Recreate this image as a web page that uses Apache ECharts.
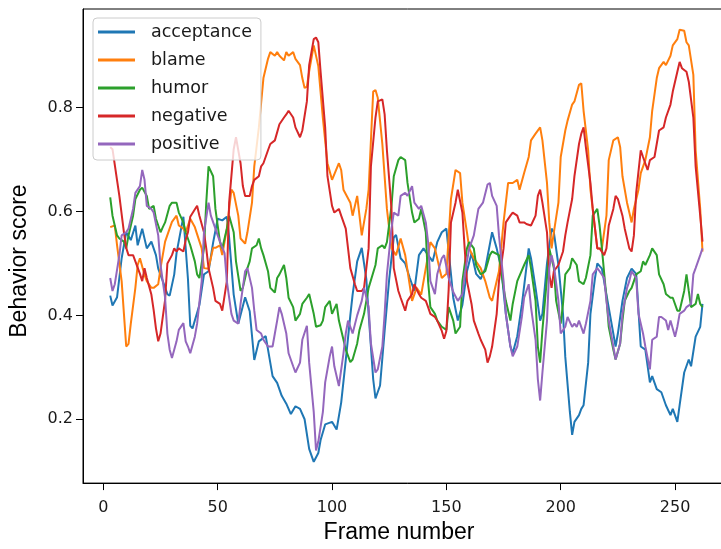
<!DOCTYPE html>
<html>
<head>
<meta charset="utf-8">
<script src="https://cdn.jsdelivr.net/npm/echarts@6/dist/echarts.min.js"></script>
<style>
html,body{margin:0;padding:0;background:#fff;overflow:hidden;width:721px;height:549px;}
#chart{width:745px;height:549px;}
</style>
</head>
<body>
<div id="chart"></div>
<script>
const seriesNames = ['acceptance', 'blame', 'humor', 'negative', 'positive'];
const seriesColors = ['#1f77b4', '#ff7f0e', '#2ca02c', '#d62728', '#9467bd'];
const xTicks = [0, 50, 100, 150, 200, 250];
const yTicks = [0.2, 0.4, 0.6, 0.8];

const acceptance = [[3,.438],[4,.419],[6,.435],[8,.51],[10,.56],[12,.545],[14,.573],[15,.535],[17,.567],[19,.529],[21,.542],[23,.516],[24,.49],[26,.466],[28,.441],[29,.438],[31,.479],[32,.52],[34,.567],[35,.59],[37,.47],[38,.38],[39,.375],[40,.39],[42,.42],[44,.479],[46,.485],[48,.54],[50,.586],[52,.583],[54,.59],[55,.55],[57,.44],[59,.384],[62,.435],[64,.408],[66,.314],[68,.35],[71,.36],[74,.283],[76,.27],[78,.245],[80,.23],[82,.21],[84,.225],[86,.22],[88,.2],[90,.143],[92,.118],[94,.135],[95,.16],[97,.19],[100,.195],[102,.18],[104,.232],[106,.314],[108,.4],[109,.44],[111,.504],[113,.53],[115,.47],[116,.403],[118,.277],[119,.24],[121,.265],[123,.37],[125,.47],[127,.55],[128,.555],[130,.51],[132,.5],[134,.472],[136,.447],[138,.516],[140,.529],[142,.516],[144,.504],[146,.541],[148,.56],[150,.567],[152,.48],[153,.434],[155,.39],[157,.42],[159,.485],[161,.52],[163,.48],[165,.47],[167,.49],[170,.56],[172,.529],[174,.49],[176,.403],[178,.34],[179,.327],[181,.36],[183,.42],[186,.529],[187,.51],[189,.453],[191,.39],[192,.403],[194,.5],[196,.567],[197,.56],[199,.497],[201,.403],[202,.32],[204,.214],[205,.17],[206,.195],[208,.208],[209,.22],[210,.227],[212,.309],[213,.403],[215,.472],[216,.5],[218,.49],[220,.44],[222,.39],[224,.34],[225,.365],[227,.428],[229,.472],[231,.49],[233,.48],[235,.34],[237,.334],[239,.271],[240,.283],[242,.258],[244,.252],[246,.227],[248,.208],[249,.22],[251,.195],[252,.227],[254,.29],[256,.315],[257,.302],[259,.359],[261,.378],[262,.422]];

const blame = [[3,.57],[5,.573],[6,.535],[8,.466],[9,.403],[10,.34],[11,.345],[12,.384],[14,.453],[15,.497],[16,.51],[18,.478],[19,.466],[21,.453],[22,.453],[24,.46],[25,.491],[27,.542],[30,.58],[32,.592],[33,.573],[35,.567],[36,.56],[38,.586],[40,.57],[43,.529],[44,.491],[46,.49],[48,.53],[49,.53],[51,.535],[52,.516],[54,.567],[56,.642],[57,.636],[59,.592],[60,.548],[62,.538],[63,.56],[65,.617],[66,.687],[68,.762],[70,.857],[72,.894],[73,.907],[75,.9],[76,.907],[77,.9],[79,.891],[80,.907],[81,.9],[83,.907],[84,.894],[86,.882],[87,.857],[88,.838],[89,.84],[90,.87],[92,.92],[94,.88],[96,.78],[98,.693],[100,.661],[103,.693],[104,.68],[105,.642],[108,.617],[109,.592],[111,.63],[113,.554],[115,.605],[116,.642],[118,.831],[119,.834],[120,.819],[122,.73],[124,.605],[126,.529],[128,.516],[130,.548],[132,.516],[135,.428],[137,.453],[139,.44],[141,.491],[143,.541],[145,.529],[147,.49],[148,.472],[150,.48],[152,.624],[154,.68],[156,.674],[157,.617],[159,.56],[160,.529],[162,.51],[165,.491],[167,.466],[169,.434],[170,.428],[173,.485],[175,.579],[177,.655],[179,.655],[181,.661],[182,.642],[184,.674],[186,.705],[187,.737],[189,.75],[191,.762],[192,.737],[194,.655],[195,.579],[196,.529],[197,.56],[199,.617],[200,.705],[202,.756],[203,.775],[205,.806],[206,.812],[208,.844],[209,.847],[210,.794],[212,.718],[213,.642],[215,.567],[216,.529],[218,.529],[220,.592],[221,.699],[223,.737],[225,.743],[226,.724],[227,.668],[229,.617],[230,.598],[231,.579],[232,.605],[234,.642],[235,.674],[237,.699],[239,.743],[240,.794],[242,.857],[243,.876],[245,.888],[246,.882],[248,.9],[249,.92],[251,.932],[252,.95],[254,.948],[255,.926],[256,.92],[258,.863],[259,.718],[261,.605],[262,.523]];

const humor = [[3,.627],[4,.592],[6,.554],[7,.548],[9,.542],[10,.529],[11,.554],[13,.592],[14,.624],[16,.642],[17,.646],[19,.63],[20,.605],[22,.611],[23,.586],[25,.56],[26,.57],[27,.579],[29,.611],[30,.617],[32,.617],[33,.598],[35,.579],[36,.56],[38,.535],[40,.504],[41,.479],[42,.472],[44,.529],[45,.617],[46,.687],[48,.668],[49,.605],[51,.541],[52,.529],[54,.567],[55,.592],[57,.56],[58,.504],[60,.447],[61,.453],[63,.491],[64,.504],[65,.529],[67,.535],[68,.548],[69,.529],[70,.516],[72,.485],[73,.453],[75,.444],[76,.472],[77,.479],[79,.497],[80,.472],[81,.434],[83,.416],[84,.39],[86,.403],[87,.422],[89,.434],[90,.441],[92,.403],[93,.378],[95,.381],[96,.39],[97,.416],[99,.428],[100,.403],[102,.422],[103,.39],[105,.353],[106,.334],[108,.31],[109,.315],[111,.346],[112,.372],[114,.403],[116,.453],[119,.497],[120,.529],[122,.535],[123,.529],[124,.541],[126,.611],[127,.668],[129,.699],[130,.705],[132,.699],[133,.655],[135,.598],[136,.579],[138,.586],[139,.605],[141,.56],[142,.466],[143,.416],[145,.403],[146,.39],[148,.378],[150,.372],[151,.416],[153,.39],[154,.365],[156,.378],[157,.466],[159,.529],[160,.541],[162,.529],[163,.497],[165,.479],[167,.485],[169,.516],[170,.523],[173,.516],[175,.453],[176,.428],[178,.39],[179,.422],[181,.466],[184,.497],[186,.516],[187,.491],[189,.428],[190,.34],[191,.309],[192,.372],[194,.472],[195,.529],[197,.491],[198,.428],[200,.384],[201,.422],[202,.479],[204,.491],[205,.51],[207,.497],[208,.466],[210,.46],[211,.472],[213,.516],[214,.592],[216,.605],[217,.573],[218,.529],[220,.434],[221,.378],[223,.334],[224,.315],[226,.346],[227,.39],[228,.428],[230,.447],[231,.453],[233,.479],[235,.485],[236,.504],[237,.497],[239,.516],[240,.529],[242,.516],[243,.479],[245,.46],[246,.441],[248,.434],[249,.434],[251,.409],[252,.409],[254,.447],[255,.479],[256,.447],[257,.416],[259,.422],[260,.441],[261,.422],[262,.416]];

const negative = [[3,.724],[4,.72],[6,.66],[7,.63],[9,.56],[10,.53],[11,.516],[13,.516],[14,.504],[16,.48],[17,.466],[18,.491],[19,.472],[21,.44],[22,.41],[23,.375],[24,.35],[25,.365],[27,.43],[28,.5],[30,.516],[31,.529],[32,.523],[33,.529],[35,.523],[36,.545],[37,.56],[38,.59],[41,.611],[42,.592],[44,.56],[45,.529],[46,.491],[48,.453],[49,.428],[51,.422],[52,.409],[54,.466],[55,.617],[57,.72],[58,.743],[60,.693],[61,.649],[62,.63],[64,.63],[65,.649],[66,.661],[68,.668],[69,.687],[70,.693],[72,.718],[73,.73],[75,.737],[77,.768],[79,.781],[80,.787],[81,.794],[83,.781],[84,.762],[86,.743],[87,.756],[89,.812],[90,.882],[92,.932],[93,.935],[94,.926],[95,.869],[97,.762],[98,.668],[100,.611],[101,.598],[103,.605],[104,.592],[106,.567],[107,.529],[108,.491],[110,.46],[111,.447],[113,.447],[114,.453],[116,.529],[117,.687],[119,.781],[120,.812],[122,.816],[123,.787],[124,.718],[126,.605],[127,.491],[129,.447],[130,.434],[132,.409],[133,.428],[135,.441],[136,.46],[138,.441],[139,.434],[141,.428],[142,.416],[143,.403],[145,.397],[146,.39],[148,.37],[149,.355],[150,.37],[151,.45],[152,.579],[154,.617],[155,.642],[157,.598],[158,.529],[159,.466],[161,.422],[162,.39],[164,.365],[165,.353],[167,.334],[168,.309],[169,.321],[170,.34],[172,.403],[173,.466],[175,.529],[176,.579],[178,.592],[179,.598],[181,.592],[182,.579],[184,.579],[185,.576],[187,.573],[189,.592],[190,.63],[191,.642],[192,.617],[194,.56],[195,.479],[196,.453],[197,.485],[199,.497],[201,.523],[202,.554],[203,.579],[205,.624],[206,.668],[208,.73],[209,.75],[210,.762],[211,.724],[213,.655],[214,.605],[216,.529],[217,.529],[219,.516],[220,.529],[221,.573],[223,.605],[224,.63],[225,.624],[227,.592],[228,.567],[230,.529],[231,.523],[232,.554],[233,.636],[235,.718],[236,.705],[238,.68],[239,.699],[241,.705],[243,.756],[245,.762],[246,.781],[248,.806],[249,.831],[251,.869],[252,.888],[253,.876],[255,.869],[256,.85],[258,.781],[259,.687],[261,.592],[262,.542]];

const positive = [[3,.472],[4,.447],[5,.46],[7,.516],[8,.554],[10,.56],[11,.567],[13,.605],[14,.636],[16,.649],[17,.68],[18,.661],[19,.611],[21,.605],[22,.598],[24,.554],[25,.497],[27,.434],[28,.365],[29,.334],[30,.318],[32,.35],[33,.372],[35,.385],[36,.35],[37,.34],[38,.327],[40,.359],[41,.384],[43,.466],[44,.56],[46,.617],[47,.592],[49,.567],[50,.554],[51,.542],[53,.52],[54,.466],[56,.403],[57,.39],[59,.384],[60,.422],[62,.485],[63,.491],[65,.453],[66,.409],[67,.372],[69,.365],[70,.353],[72,.34],[74,.34],[75,.365],[76,.39],[77,.416],[78,.403],[80,.365],[81,.327],[83,.302],[84,.29],[86,.309],[87,.353],[89,.38],[90,.309],[92,.214],[93,.14],[94,.157],[96,.214],[97,.271],[99,.321],[100,.34],[101,.302],[103,.264],[105,.327],[106,.365],[107,.39],[108,.378],[109,.365],[111,.4],[113,.428],[114,.453],[116,.416],[117,.346],[119,.29],[120,.296],[122,.34],[123,.403],[124,.479],[126,.567],[127,.598],[129,.592],[130,.63],[132,.636],[133,.63],[135,.649],[136,.617],[138,.605],[139,.611],[141,.579],[142,.541],[143,.466],[145,.441],[146,.479],[148,.51],[149,.516],[151,.472],[153,.445],[155,.428],[157,.441],[158,.479],[160,.529],[162,.554],[164,.605],[166,.617],[168,.652],[169,.655],[170,.63],[172,.611],[173,.554],[175,.466],[176,.403],[178,.34],[179,.321],[181,.34],[183,.397],[184,.434],[186,.46],[187,.416],[189,.353],[190,.277],[191,.236],[192,.29],[194,.39],[195,.491],[196,.516],[197,.497],[199,.428],[200,.365],[202,.378],[203,.397],[205,.378],[206,.384],[207,.378],[208,.39],[210,.365],[211,.384],[213,.428],[214,.479],[216,.491],[217,.485],[219,.472],[220,.428],[221,.39],[223,.34],[224,.315],[226,.346],[227,.403],[229,.453],[230,.466],[231,.485],[233,.472],[234,.403],[236,.365],[237,.34],[239,.296],[240,.353],[242,.359],[243,.397],[244,.397],[246,.39],[247,.372],[248,.39],[250,.359],[251,.378],[252,.403],[254,.409],[255,.416],[257,.422],[258,.479],[259,.491],[261,.516],[262,.529]];

const seriesData = [acceptance, blame, humor, negative, positive];

const chart = echarts.init(document.getElementById('chart'), null, {renderer: 'canvas'});
const tickFont = 'DejaVu Sans';
const labelFont = 'Liberation Sans';

chart.setOption({
  animation: false,
  backgroundColor: '#ffffff',
  grid: {
    left: 83, width: 649, top: 9, bottom: 56,
    show: true, borderColor: '#000', borderWidth: 1, backgroundColor: 'transparent'
  },
  legend: {
    data: seriesNames,
    orient: 'vertical',
    left: 93, top: 18,
    padding: [4, 9, 6, 5],
    itemWidth: 37, itemHeight: 3, itemGap: 8,
    icon: 'rect',
    backgroundColor: 'rgba(255,255,255,0.8)',
    borderColor: '#cccccc', borderWidth: 1, borderRadius: 4,
    textStyle: {fontFamily: tickFont, fontSize: 17.5, color: '#1a1a1a', lineHeight: 20, padding: [0, 0, 0, 11]}
  },
  xAxis: {
    type: 'value',
    min: -8.9, max: 274.9,
    name: 'Frame number',
    nameLocation: 'middle',
    nameGap: 36,
    nameTextStyle: {fontFamily: labelFont, fontSize: 23, color: '#000', padding: [0, 17, 0, 0]},
    axisLine: {show: true, onZero: false, lineStyle: {color: '#000', width: 1}},
    axisTick: {show: true, inside: false, length: 7, lineStyle: {color: '#000'}, customValues: xTicks},
    axisLabel: {show: true, margin: 17, fontFamily: tickFont, fontSize: 16, color: '#1a1a1a', customValues: xTicks},
    splitLine: {show: false}
  },
  yAxis: {
    type: 'value',
    min: 0.077, max: 0.990,
    name: 'Behavior score',
    nameLocation: 'middle',
    nameRotate: 90,
    nameGap: 52,
    nameTextStyle: {fontFamily: labelFont, fontSize: 23, color: '#000', padding: [0, 30, 0, 0]},
    axisLine: {show: true, onZero: false, lineStyle: {color: '#000', width: 1}},
    axisTick: {show: true, inside: false, length: 7, lineStyle: {color: '#000'}, customValues: yTicks},
    axisLabel: {show: true, margin: 10, fontFamily: tickFont, fontSize: 16, color: '#1a1a1a', customValues: yTicks,
      formatter: v => v.toFixed(1)},
    splitLine: {show: false}
  },
  series: seriesNames.map((name, i) => ({
    name: name,
    type: 'line',
    data: seriesData[i],
    symbol: 'none',
    showSymbol: false,
    clip: true,
    lineStyle: {width: 2, color: seriesColors[i]},
    itemStyle: {color: seriesColors[i]}
  }))
});
</script>
</body>
</html>
